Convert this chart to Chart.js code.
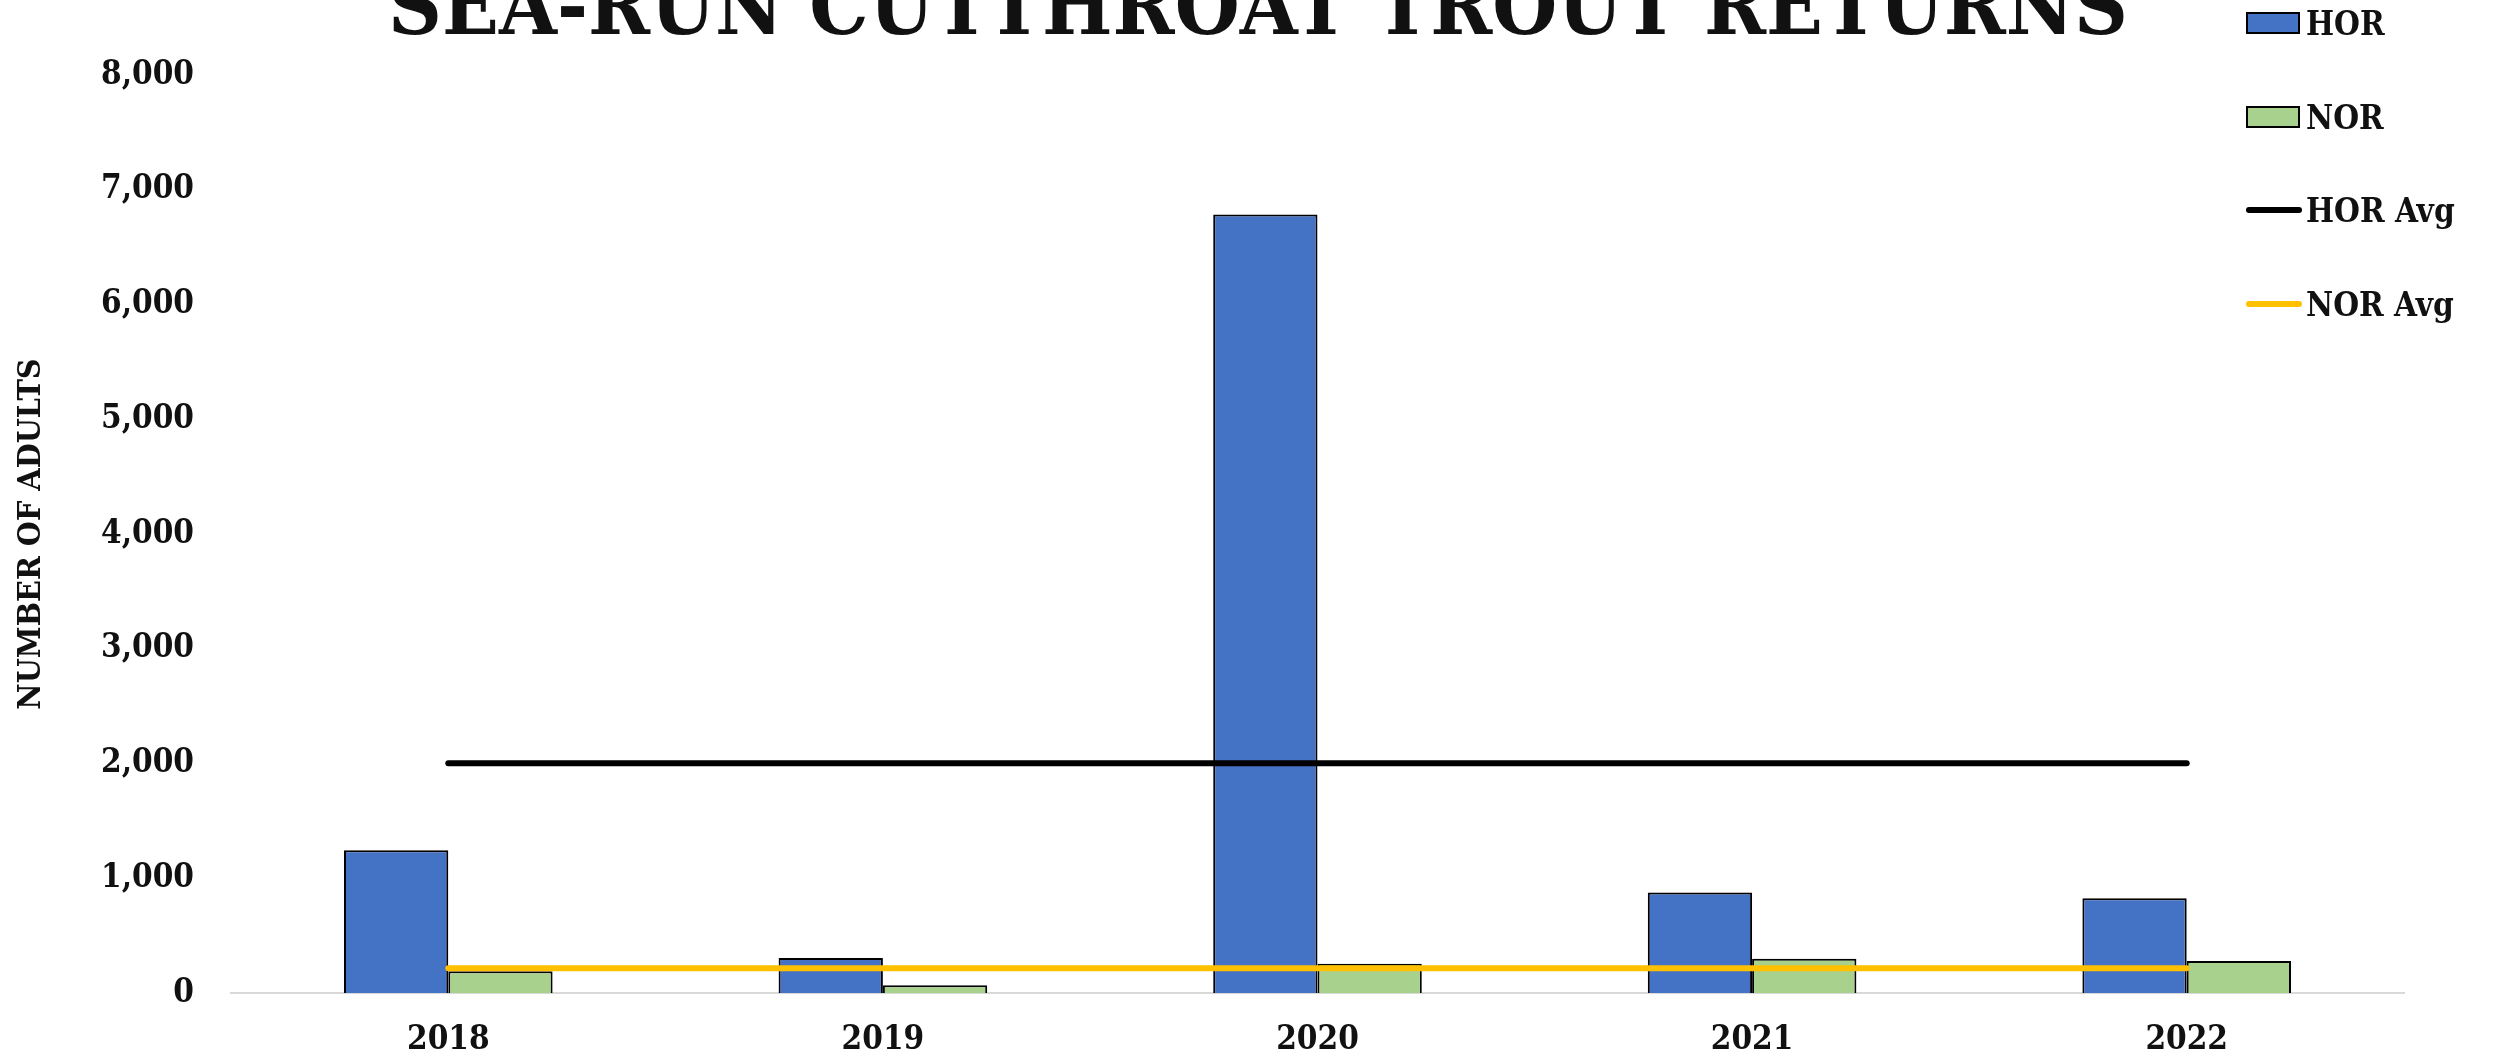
<!DOCTYPE html>
<html>
<head>
<meta charset="utf-8">
<script src="https://cdn.jsdelivr.net/npm/chart.js@4.4.1/dist/chart.umd.min.js"></script>
<style>
    body { margin: 0; background: #fff; overflow: hidden; }
    #wrap { position: relative; width: 2496px; height: 1060px; }
    #titulo {
        position: absolute; left: 0; width: 2496px; top: -36px;
        text-align: center; font: bold 83px "DejaVu Serif Condensed", "DejaVu Serif", serif; line-height: 1;
        color: #111; padding-left: 20px; box-sizing: border-box;
    }
    #leyenda { position: absolute; left: 2246px; top: 0; }
    .item {
        position: absolute; left: 0; height: 40px; display: flex; align-items: center;
        font: bold 33px "DejaVu Serif Condensed", "DejaVu Serif", serif; color: #111; white-space: nowrap;
    }
    .caja { width: 50px; height: 18px; border: 2px solid #000; margin-right: 6px; box-sizing: content-box; }
    .linea { width: 56px; height: 6px; border-radius: 3px; margin-right: 4px; }
</style>
</head>
<body>
<div id="wrap">
    <canvas id="trucha" width="2496" height="1060"></canvas>
    <div id="titulo">SEA-RUN CUTTHROAT TROUT RETURNS</div>
    <div id="leyenda"></div>
</div>
<script>
const anios = ['2018', '2019', '2020', '2021', '2022']
const hor = [1245, 305, 6785, 875, 826]
const nor = [190, 67, 255, 298, 278]
const horAvg = [2002, 2002, 2002, 2002, 2002]
const norAvg = [215, 215, 215, 215, 215]

const familia = '"DejaVu Serif Condensed", "DejaVu Serif", serif'
const fuente = { family: familia, weight: 'bold', size: 33 }

const datos = {
    labels: anios,
    datasets: [
        {
            type: 'bar', label: 'HOR', data: hor, order: 2,
            backgroundColor: '#4472C4', borderColor: '#000', borderWidth: 2,
            categoryPercentage: 0.48, barPercentage: 1.0
        },
        {
            type: 'bar', label: 'NOR', data: nor, order: 2,
            backgroundColor: '#A9D18E', borderColor: '#000', borderWidth: 2,
            categoryPercentage: 0.48, barPercentage: 1.0
        },
        {
            type: 'line', label: 'HOR Avg', data: horAvg, order: 0,
            borderColor: '#000', borderWidth: 6, borderCapStyle: 'round',
            pointRadius: 0, fill: false
        },
        {
            type: 'line', label: 'NOR Avg', data: norAvg, order: 1,
            borderColor: '#FFC000', borderWidth: 6, borderCapStyle: 'round',
            pointRadius: 0, fill: false
        }
    ]
}

const grafica = new Chart(document.querySelector('#trucha'), {
    data: datos,
    options: {
        responsive: false,
        animation: false,
        layout: { padding: { top: 75, right: 92, left: 0, bottom: 0 } },
        plugins: { legend: { display: false }, tooltip: { enabled: false }, title: { display: false } },
        scales: {
            x: {
                grid: { display: false, drawTicks: false },
                border: { display: true, color: '#D9D9D9', width: 2 },
                ticks: { color: '#111', font: fuente, padding: 28 },
                afterFit: (s) => { s.height = 67 }
            },
            y: {
                min: 0, max: 8000,
                grid: { display: false, drawTicks: false },
                border: { display: false },
                ticks: {
                    stepSize: 1000, color: '#111', font: fuente, padding: 37,
                    callback: (v) => v.toLocaleString('en-US')
                },
                title: {
                    display: true, text: 'NUMBER OF ADULTS', color: '#111',
                    font: { family: familia, weight: 'bold', size: 32 },
                    padding: { top: 12, bottom: 0 }
                },
                afterFit: (s) => { s.width = 231 }
            }
        }
    }
})

// leyenda a mano, arriba a la derecha sobre el area del grafico
const $leyenda = document.querySelector('#leyenda')
const centros = [23, 117, 210, 304]
grafica.data.datasets.forEach((ds, i) => {
    const item = document.createElement('div')
    item.className = 'item'
    item.style.top = (centros[i] - 20) + 'px'
    const marca = document.createElement('span')
    if (ds.type === 'bar') {
        marca.className = 'caja'
        marca.style.background = ds.backgroundColor
    } else {
        marca.className = 'linea'
        marca.style.background = ds.borderColor
    }
    item.appendChild(marca)
    item.appendChild(document.createTextNode(ds.label))
    $leyenda.appendChild(item)
})
</script>
</body>
</html>
